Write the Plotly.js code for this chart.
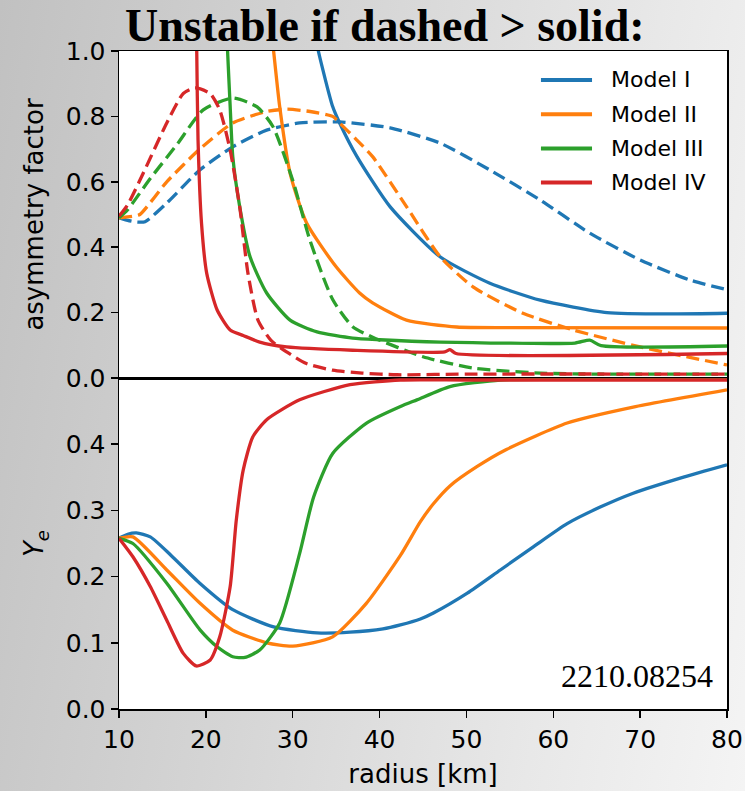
<!DOCTYPE html>
<html>
<head>
<meta charset="utf-8">
<script src="https://cdn.plot.ly/plotly-3.0.1.min.js"></script>
<style>
  html, body { margin: 0; padding: 0; }
  body { width: 745px; height: 791px; overflow: hidden;
         background: linear-gradient(100deg, #c1c1c1 0%, #d5d5d5 40%, #e8e8e8 75%, #f4f4f4 100%); }
  #chart { width: 745px; height: 791px; }
</style>
</head>
<body>
<div id="chart"></div>
<script>
// ---------------- data ----------------
const models = ["Model I", "Model II", "Model III", "Model IV"];
const colors = ["#1f77b4", "#ff7f0e", "#2ca02c", "#d62728"];

// asymmetry factor, solid lines
const r_solid_I   = [32.4, 32.95, 34.6, 35.4, 37.4, 41.2, 47, 52.7, 58.5, 66.2, 73.8, 80];
const a_solid_I   = [1.08, 1.0, 0.83, 0.78, 0.677, 0.524, 0.37, 0.29, 0.238, 0.20, 0.196, 0.198];
const r_solid_II  = [27.4, 27.8, 28.5, 29.7, 31.6, 35.0, 37.7, 39.2, 43.1, 48.9, 55, 80];
const a_solid_II  = [1.1, 1.0, 0.83, 0.626, 0.474, 0.34, 0.26, 0.23, 0.177, 0.156, 0.154, 0.153];
const r_solid_III = [22.35, 22.5, 22.8, 23.1, 23.9, 25.1, 27.0, 29.7, 32.8, 36.9, 40, 47, 62.5, 64.2, 65.5, 80];
const a_solid_III = [1.1, 1.0, 0.83, 0.677, 0.524, 0.37, 0.26, 0.177, 0.141, 0.122, 0.117, 0.11, 0.107, 0.116, 0.099, 0.098];
const r_solid_IV  = [18.9, 18.95, 19.1, 19.5, 20.1, 21.3, 22.8, 24.3, 26.2, 29.3, 36.9, 47.5, 48.1, 48.8, 80];
const a_solid_IV  = [1.1, 1.0, 0.728, 0.474, 0.32, 0.208, 0.147, 0.13, 0.11, 0.095, 0.085, 0.08, 0.087, 0.075, 0.075];

// asymmetry factor, dashed lines
const r_dash_I   = [10, 11, 12, 13, 15.5, 19.3, 23.1, 27, 30.8, 35.4, 41.2, 47, 52.7, 58.5, 64.2, 70, 75.7, 80];
const a_dash_I   = [0.49, 0.482, 0.477, 0.478, 0.535, 0.636, 0.707, 0.758, 0.78, 0.783, 0.765, 0.718, 0.636, 0.544, 0.443, 0.361, 0.30, 0.27];
const r_dash_II  = [10, 11.6, 12.4, 15.5, 19.3, 23.1, 27, 29.3, 32, 34.6, 35.4, 37.3, 39.2, 43.1, 47, 50.8, 56.5, 62.3, 70, 80];
const a_dash_II  = [0.49, 0.495, 0.50, 0.60, 0.70, 0.78, 0.815, 0.822, 0.815, 0.80, 0.78, 0.73, 0.677, 0.524, 0.37, 0.278, 0.198, 0.147, 0.095, 0.04];
const r_dash_III = [10, 11, 13.6, 16.7, 19.7, 23.1, 25.9, 27.7, 30, 32, 34.6, 36.9, 39.2, 45, 50.8, 58.5, 65, 80];
const a_dash_III = [0.49, 0.515, 0.61, 0.715, 0.82, 0.856, 0.829, 0.77, 0.605, 0.42, 0.24, 0.157, 0.125, 0.065, 0.03, 0.015, 0.012, 0.012];
const r_dash_IV  = [10, 11, 12.8, 15.5, 17.4, 18.75, 20.5, 21.6, 22.8, 23.9, 24.85, 26, 27.5, 29.3, 31.5, 34.6, 38, 42, 50, 80];
const a_dash_IV  = [0.495, 0.53, 0.627, 0.78, 0.87, 0.887, 0.87, 0.82, 0.697, 0.523, 0.32, 0.177, 0.115, 0.08, 0.045, 0.024, 0.015, 0.01, 0.012, 0.012];

// electron fraction Ye
const r_ye_I   = [10, 11, 12, 13.6, 16, 19.3, 23.1, 27.8, 32.8, 36.6, 40.4, 42.4, 44.7, 46.2, 50.1, 53.9, 57.7, 61.6, 65.4, 69.2, 74.9, 80];
const ye_I     = [0.258, 0.264, 0.266, 0.26, 0.232, 0.19, 0.15, 0.124, 0.115, 0.116, 0.121, 0.127, 0.136, 0.145, 0.175, 0.21, 0.245, 0.28, 0.305, 0.326, 0.35, 0.369];
const r_ye_II  = [10, 11.6, 15.5, 19.3, 23.1, 27, 30, 34.6, 38.5, 42.4, 44.7, 46.2, 48.1, 51.2, 54.6, 61.6, 69.2, 80];
const ye_II    = [0.258, 0.26, 0.21, 0.16, 0.119, 0.10, 0.095, 0.109, 0.16, 0.232, 0.283, 0.31, 0.337, 0.366, 0.392, 0.432, 0.456, 0.482];
const r_ye_III = [10, 11.6, 15.5, 19.3, 21.3, 23.1, 24.5, 26.2, 28.5, 30.8, 32.4, 34.6, 38.5, 42.4, 44.3, 48.1, 53.9, 60, 80];
const ye_III   = [0.258, 0.25, 0.19, 0.12, 0.094, 0.079, 0.078, 0.089, 0.13, 0.235, 0.32, 0.386, 0.432, 0.457, 0.467, 0.487, 0.497, 0.498, 0.498];
const r_ye_IV  = [10, 11.6, 13.6, 15.5, 17.4, 18.9, 20.5, 21.6, 22.8, 23.5, 24.3, 25.4, 27, 30.8, 36.6, 42.4, 50, 80];
const ye_IV    = [0.258, 0.23, 0.185, 0.134, 0.084, 0.065, 0.074, 0.109, 0.185, 0.285, 0.361, 0.411, 0.437, 0.467, 0.49, 0.497, 0.497, 0.497];

const titleText = "Unstable if dashed > solid:";
const yTitleTop = "asymmetry factor";
const yTitleBottom = "<i>Y</i><sub><i>e</i></sub>";
const xTitle = "radius [km]";
const stamp = "2210.08254";

// ---------------- build ----------------
const solidR = [r_solid_I, r_solid_II, r_solid_III, r_solid_IV];
const solidA = [a_solid_I, a_solid_II, a_solid_III, a_solid_IV];
const dashR  = [r_dash_I, r_dash_II, r_dash_III, r_dash_IV];
const dashA  = [a_dash_I, a_dash_II, a_dash_III, a_dash_IV];
const yeR    = [r_ye_I, r_ye_II, r_ye_III, r_ye_IV];
const yeV    = [ye_I, ye_II, ye_III, ye_IV];

const LW = 3.3;
const traces = [];
for (let i = 0; i < 4; i++) {
  traces.push({x: solidR[i], y: solidA[i], xaxis: 'x', yaxis: 'y', mode: 'lines', name: models[i],
    line: {color: colors[i], width: LW, shape: 'spline', smoothing: 0.6}, showlegend: false, hoverinfo: 'skip'});
  traces.push({x: dashR[i], y: dashA[i], xaxis: 'x', yaxis: 'y', mode: 'lines', name: models[i] + ' dashed',
    line: {color: colors[i], width: LW, dash: '13px,6px', shape: 'spline', smoothing: 0.6}, showlegend: false, hoverinfo: 'skip'});
  traces.push({x: yeR[i], y: yeV[i], xaxis: 'x2', yaxis: 'y2', mode: 'lines', name: models[i] + ' Ye',
    line: {color: colors[i], width: LW, shape: 'spline', smoothing: 0.6}, showlegend: false, hoverinfo: 'skip'});
}

const tickFont = {family: 'DejaVu Sans', size: 25, color: '#000'};
const titleFont = {family: 'DejaVu Sans', size: 26, color: '#000'};
const split = 0.503;

// manual legend (paper coordinates of the plot area)
const shapes = [];
const annotations = [];
const legTop = 0.956, legStep = 0.052;
models.forEach((m, i) => {
  const yy = legTop - i * legStep;
  shapes.push({type: 'line', xref: 'paper', yref: 'paper', x0: 0.694, x1: 0.778, y0: yy, y1: yy,
    line: {color: colors[i], width: 4}});
  annotations.push({xref: 'paper', yref: 'paper', x: 0.806, y: yy, xanchor: 'left', yanchor: 'middle',
    text: m, showarrow: false, font: {family: 'DejaVu Sans', size: 22, color: '#000'}});
});
annotations.push({xref: 'paper', yref: 'paper', x: 0.4367, y: 1.038, xanchor: 'center', yanchor: 'middle',
  text: '<b>' + titleText.replace('>', '&gt;') + '</b>', showarrow: false,
  font: {family: 'Liberation Serif', size: 46, color: '#000'}});
annotations.push({xref: 'paper', yref: 'paper', x: 0.98, y: 0.05, xanchor: 'right', yanchor: 'middle',
  text: stamp, showarrow: false, font: {family: 'Liberation Serif', size: 32, color: '#000'}});

const layout = {
  width: 745, height: 791,
  margin: {l: 119, r: 18, t: 51, b: 82, pad: 0},
  paper_bgcolor: 'rgba(0,0,0,0)',
  plot_bgcolor: '#ffffff',
  showlegend: false,
  xaxis: {domain: [0, 1], anchor: 'y', range: [10, 80], showticklabels: false, ticks: '',
    showline: true, mirror: true, linecolor: '#000', linewidth: 1.5, showgrid: false, zeroline: false},
  yaxis: {domain: [split, 1], anchor: 'x', range: [0, 1], dtick: 0.2, tick0: 0, tickformat: '.1f',
    ticks: 'outside', ticklen: 7, tickwidth: 1.5, tickcolor: '#000', tickfont: tickFont,
    showline: true, mirror: true, linecolor: '#000', linewidth: 1.5, showgrid: false, zeroline: false,
    title: {text: yTitleTop, font: titleFont, standoff: 14}},
  xaxis2: {domain: [0, 1], anchor: 'y2', range: [10, 80], dtick: 10, tick0: 10,
    ticks: 'outside', ticklen: 7, tickwidth: 1.5, tickcolor: '#000', tickfont: tickFont,
    showline: true, mirror: true, linecolor: '#000', linewidth: 1.5, showgrid: false, zeroline: false,
    title: {text: xTitle, font: titleFont, standoff: 12}},
  yaxis2: {domain: [0, split], anchor: 'x2', range: [0, 0.5], tickvals: [0, 0.1, 0.2, 0.3, 0.4], tickformat: '.1f',
    ticks: 'outside', ticklen: 7, tickwidth: 1.5, tickcolor: '#000', tickfont: tickFont,
    showline: true, mirror: true, linecolor: '#000', linewidth: 1.5, showgrid: false, zeroline: false,
    title: {text: yTitleBottom, font: titleFont, standoff: 14}},
  shapes: shapes,
  annotations: annotations
};

Plotly.newPlot('chart', traces, layout, {staticPlot: true, displayModeBar: false});
</script>
</body>
</html>
